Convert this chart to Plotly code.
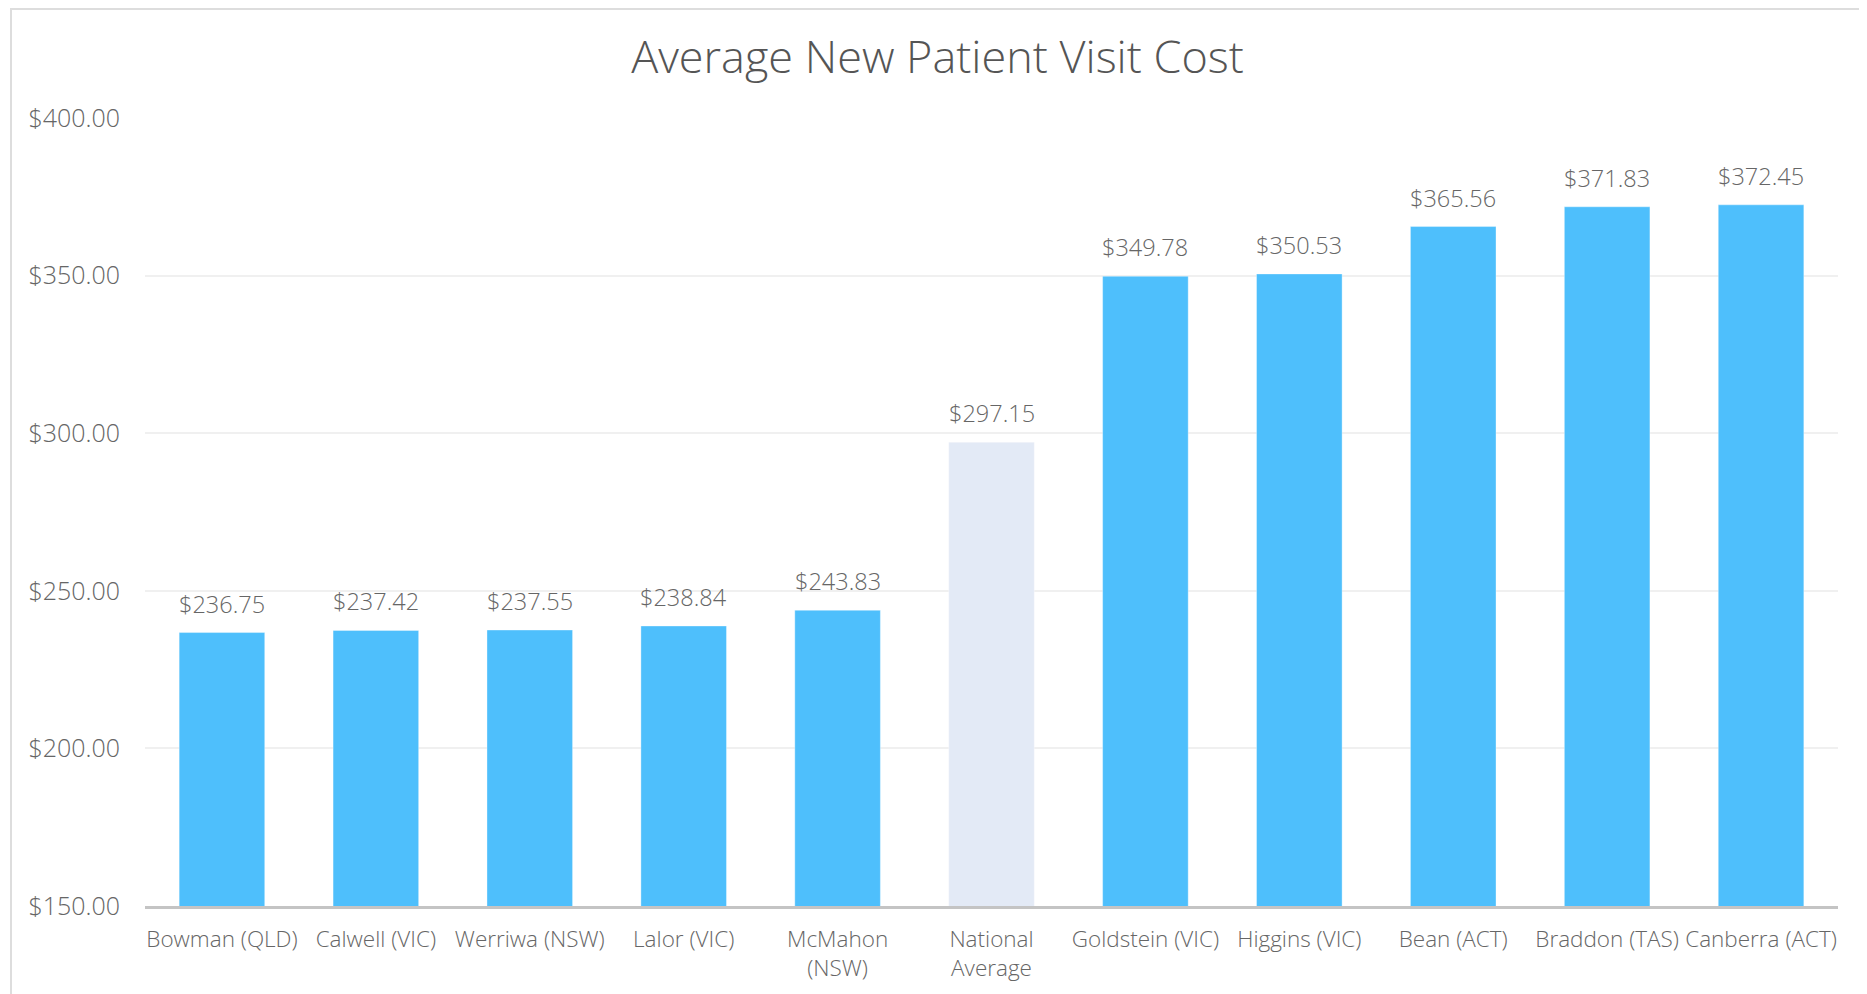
import plotly.graph_objects as go

categories = ["Bowman (QLD)", "Calwell (VIC)", "Werriwa (NSW)", "Lalor (VIC)", "McMahon<br>(NSW)",
              "National<br>Average", "Goldstein (VIC)", "Higgins (VIC)", "Bean (ACT)",
              "Braddon (TAS)", "Canberra (ACT)"]
values = [236.75, 237.42, 237.55, 238.84, 243.83, 297.15, 349.78, 350.53, 365.56, 371.83, 372.45]
value_labels = ["$236.75", "$237.42", "$237.55", "$238.84", "$243.83", "$297.15",
                "$349.78", "$350.53", "$365.56", "$371.83", "$372.45"]
y_tick_values = [150, 200, 250, 300, 350, 400]
y_tick_labels = ["$150.00", "$200.00", "$250.00", "$300.00", "$350.00", "$400.00"]
highlight = "National<br>Average"

BLUE = "#4EBFFC"
PALE = "#E3EAF6"
colors = [PALE if c == highlight else BLUE for c in categories]

FONT = "Open Sans"
TEXT = "#666666"

fig = go.Figure()
fig.add_trace(go.Bar(
    x=categories, y=values,
    marker=dict(color=colors, line=dict(color="rgba(255,255,255,0.35)", width=1)),
    hoverinfo="x+y",
))

for c, v, t in zip(categories, values, value_labels):
    fig.add_annotation(x=c, y=v, text=t, showarrow=False, yanchor="bottom", yshift=11,
                       font=dict(family=FONT, size=23.5, color=TEXT, weight=300))

# page body adds an 8px offset; figure sized to end at the window edge
W, H = 1859, 986
L, R, T, B = 137, 29, 110, 88
pw, ph = W - L - R, H - T - B
def px2x(px):
    return (px - L) / pw
def py2y(py):
    return (H - B - py) / ph
fig.add_shape(type="rect", xref="paper", yref="paper",
              x0=px2x(3), x1=px2x(1858), y0=py2y(1100), y1=py2y(1),
              line=dict(color="#DDDDDD", width=2), fillcolor="rgba(0,0,0,0)", layer="below")

fig.update_layout(
    width=W, height=H,
    margin=dict(l=L, r=R, t=T, b=B, autoexpand=False),
    paper_bgcolor="white", plot_bgcolor="white",
    showlegend=False,
    bargap=0.444,
    font=dict(family=FONT, color=TEXT, weight=300),
    title=dict(text="Average New Patient Visit Cost", x=0.5, xanchor="center", xref="container",
               y=1 - 49 / H, yanchor="middle", yref="container",
               font=dict(family=FONT, size=45, color="#555555", weight=300)),
    yaxis=dict(range=[150, 400], tickmode="array", tickvals=y_tick_values, ticktext=y_tick_labels,
               showgrid=True, gridcolor="#F0F0F0", gridwidth=2,
               zeroline=False, showline=False, ticks="", ticklabelstandoff=24,
               tickfont=dict(family=FONT, size=25, color=TEXT, weight=300)),
    xaxis=dict(showline=True, linecolor="#C4C4C4", linewidth=3, ticks="", showgrid=False,
               ticklabelstandoff=11, tickangle=0,
               tickfont=dict(family=FONT, size=22.5, color=TEXT, weight=300)),
)

fig.write_html("out.html")
